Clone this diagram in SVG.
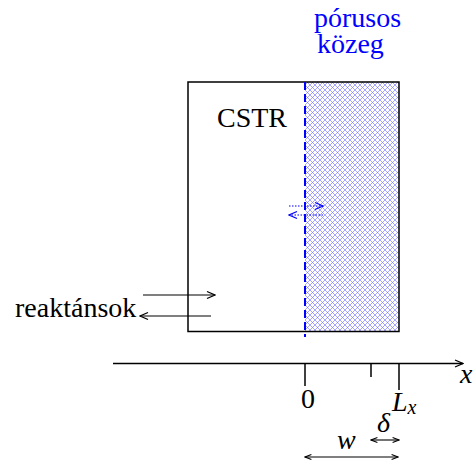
<svg xmlns="http://www.w3.org/2000/svg" width="473" height="461" viewBox="0 0 473 461">
<style>
.ln{stroke:#000;stroke-width:1.5;fill:none}
.thin{stroke:#000;stroke-width:1.1;fill:none}
.blue{stroke:#0000ff;fill:none}
</style>
<defs>
<pattern id="hatch" width="5" height="5" patternUnits="userSpaceOnUse">
<path d="M0,0 L5,5 M5,0 L0,5" stroke="#6a6aff" stroke-width="0.6" fill="none"/>
</pattern>
<marker id="ah" viewBox="0 0 10 10" refX="9" refY="5" markerWidth="10" markerHeight="10" markerUnits="userSpaceOnUse" orient="auto-start-reverse">
<path d="M1,1.5 L9,5 L1,8.5" fill="none" stroke="#000" stroke-width="1.3"/>
</marker>
<marker id="ahb" viewBox="0 0 10 10" refX="9" refY="5" markerWidth="10" markerHeight="10" markerUnits="userSpaceOnUse" orient="auto-start-reverse">
<path d="M1,1.5 L9,5 L1,8.5" fill="none" stroke="#0000ff" stroke-width="1.3"/>
</marker>
<marker id="ahs" viewBox="0 0 10 10" refX="9" refY="5" markerWidth="8" markerHeight="8" markerUnits="userSpaceOnUse" orient="auto-start-reverse">
<path d="M1,2 L9,5 L1,8" fill="none" stroke="#000" stroke-width="1.3"/>
</marker>
</defs>
<g id="cstr">
<rect x="305" y="82" width="94" height="249.5" fill="url(#hatch)"/>
<rect x="188" y="82" width="211" height="249.5" class="ln"/>
<text font-family="Times New Roman, Liberation Serif, serif" font-size="28" fill="#000" x="217" y="127">CSTR</text>
</g>
<g id="porous">
<text font-family="Times New Roman, Liberation Serif, serif" font-size="28" fill="#0000ff" x="314" y="27">pórusos</text>
<text font-family="Times New Roman, Liberation Serif, serif" font-size="28" fill="#0000ff" x="317" y="53">közeg</text>
</g>
<g id="reactants">
<text font-family="Times New Roman, Liberation Serif, serif" font-size="28" fill="#000" x="15" y="317">reaktánsok</text>
</g>
<g id="connectors">
<line x1="305" y1="82" x2="305" y2="337" class="blue" stroke-width="2" stroke-dasharray="8 4"/>
<line x1="289" y1="206" x2="323" y2="206" class="blue" stroke-width="1.2" stroke-dasharray="1.5 1.5" marker-end="url(#ahb)"/>
<line x1="323" y1="215" x2="289" y2="215" class="blue" stroke-width="1.2" stroke-dasharray="1.5 1.5" marker-end="url(#ahb)"/>
<line x1="143" y1="295" x2="215" y2="295" class="thin" marker-end="url(#ah)"/>
<line x1="211" y1="316" x2="140" y2="316" class="thin" marker-end="url(#ah)"/>
<line x1="113" y1="363.5" x2="463" y2="363.5" class="ln" marker-end="url(#ah)"/>
<line x1="305" y1="363.5" x2="305" y2="386" class="ln"/>
<line x1="371" y1="363.5" x2="371" y2="377" class="ln"/>
<line x1="399" y1="363.5" x2="399" y2="390" class="ln"/>
<line x1="371" y1="440" x2="399" y2="440" class="thin" marker-start="url(#ahs)" marker-end="url(#ahs)"/>
<line x1="305" y1="457" x2="398" y2="457" class="thin" marker-start="url(#ahs)" marker-end="url(#ahs)"/>
</g>
<g id="labels">
<text font-family="Times New Roman, Liberation Serif, serif" font-size="28" fill="#000" x="301" y="408">0</text>
<text font-family="Times New Roman, Liberation Serif, serif" font-size="28" font-style="italic" fill="#000" x="392" y="411">L<tspan font-size="20" dy="3">x</tspan></text>
<text font-family="Times New Roman, Liberation Serif, serif" font-size="28" font-style="italic" fill="#000" x="377" y="432">δ</text>
<text font-family="Times New Roman, Liberation Serif, serif" font-size="28" font-style="italic" fill="#000" x="337" y="449">w</text>
<text font-family="Times New Roman, Liberation Serif, serif" font-size="28" font-style="italic" fill="#000" x="460" y="383">x</text>
</g>
</svg>
